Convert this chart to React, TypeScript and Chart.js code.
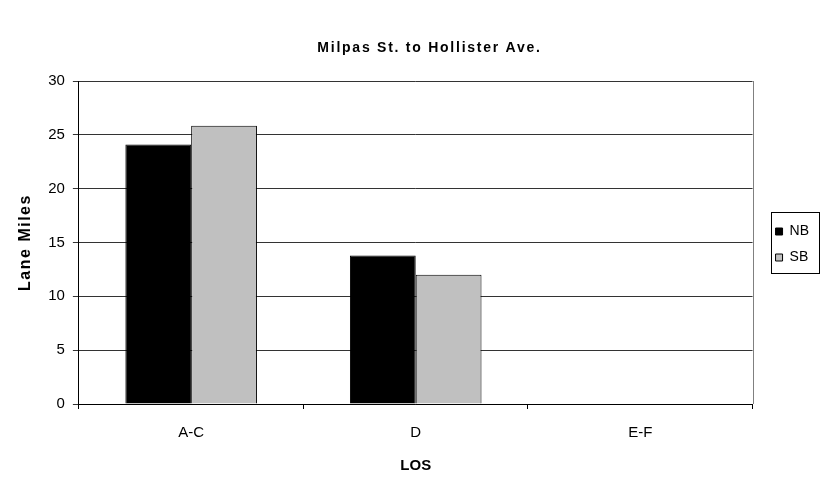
import React, { useEffect, useRef } from "react";
import { Chart, registerables } from "chart.js";

Chart.register(...registerables);

const categories = ["A-C", "D", "E-F"];
const nbValues = [24.1, 13.8, 0];
const sbValues = [25.85, 12.0, 0];
const seriesNames = ["NB", "SB"];
const yTicks = [0, 5, 10, 15, 20, 25, 30];

const FONT = "'Liberation Sans', Arial, sans-serif";

function withSpacing(ctx: any, sp: string, dx: number, fn: () => void) {
  const prev = ctx.letterSpacing;
  ctx.save();
  ctx.translate(dx, 0);
  ctx.letterSpacing = sp;
  try {
    fn();
  } finally {
    ctx.restore();
    ctx.letterSpacing = prev;
  }
}

const spacingPlugin = {
  id: "spacing",
  afterInit(chart: any) {
    const tb = chart.titleBlock;
    if (tb && !tb.__wrapped) {
      const od = tb.draw.bind(tb);
      tb.draw = (...a: any[]) => withSpacing(chart.ctx, "1.75px", 12, () => od(...a));
      tb.__wrapped = true;
    }
  },
  afterLayout(chart: any) {
    const y = chart.scales.y;
    if (y && !y.__wrapped) {
      const od = y.drawTitle.bind(y);
      y.drawTitle = (...a: any[]) => withSpacing(chart.ctx, "1.5px", 0, () => od(...a));
      y.__wrapped = true;
    }
  },
};

const framePlugin = {
  id: "frame",
  afterDraw(chart: any) {
    const ctx = chart.ctx;
    const a = chart.chartArea;
    ctx.save();
    ctx.strokeStyle = "#808080";
    ctx.lineWidth = 1;
    ctx.beginPath();
    ctx.moveTo(Math.round(a.right) + 0.5, a.top);
    ctx.lineTo(Math.round(a.right) + 0.5, a.bottom);
    ctx.stroke();
    const lg = chart.legend;
    if (lg && lg.legendHitBoxes && lg.legendHitBoxes.length) {
      const hb = lg.legendHitBoxes;
      const l = Math.min(...hb.map((h: any) => h.left)) - 5;
      const r = Math.max(...hb.map((h: any) => h.left + h.width)) + 10;
      const t = hb[0].top - 13;
      const last = hb[hb.length - 1];
      const b = last.top + last.height + 8;
      ctx.strokeStyle = "#000";
      ctx.strokeRect(Math.round(l) + 0.5, Math.round(t) + 0.5, Math.round(r - l), Math.round(b - t));
    }
    ctx.restore();
  },
};

export default function App() {
  const ref = useRef<HTMLCanvasElement>(null);
  useEffect(() => {
    document.body.style.margin = "0";
    const chart = new Chart(ref.current!, {
      type: "bar",
      data: {
        labels: categories,
        datasets: [
          {
            label: seriesNames[0],
            data: nbValues,
            backgroundColor: "#000000",
            borderColor: "#000000",
            borderWidth: 1,
            categoryPercentage: 0.586,
            barPercentage: 1.0,
          },
          {
            label: seriesNames[1],
            data: sbValues,
            backgroundColor: "#C0C0C0",
            borderColor: "#000000",
            borderWidth: 1,
            categoryPercentage: 0.586,
            barPercentage: 1.0,
          },
        ],
      },
      options: {
        animation: false,
        responsive: false,
        maintainAspectRatio: false,
        layout: { padding: { left: 16, right: 13, bottom: 4, top: 0 } },
        plugins: {
          title: {
            display: true,
            text: "Milpas St. to Hollister Ave.",
            color: "#000",
            font: { family: FONT, size: 14, weight: "bold" },
            padding: { top: 39.6, bottom: 24.6 },
          },
          legend: {
            position: "right",
            title: {
              display: true,
              text: " ",
              color: "#000",
              font: { family: FONT, size: 10 },
              padding: { top: 1, bottom: 1 },
            },
            labels: {
              color: "#000",
              font: { family: FONT, size: 14 },
              boxWidth: 7,
              boxHeight: 7,
              padding: 12,
              generateLabels: (chart: any) =>
                chart.data.datasets.map((d: any, i: number) => ({
                  text: d.label,
                  fillStyle: d.backgroundColor,
                  strokeStyle: "#000",
                  fontColor: "#000",
                  lineWidth: 1,
                  datasetIndex: i,
                  hidden: false,
                })),
            },
          },
          tooltip: { enabled: false },
        },
        scales: {
          x: {
            grid: {
              display: true,
              drawOnChartArea: false,
              drawTicks: true,
              tickLength: 5,
              offset: true,
              color: "#000",
            },
            border: { display: true, color: "#000" },
            ticks: {
              color: "#000",
              font: { family: FONT, size: 15 },
              padding: 15,
            },
            title: {
              display: true,
              text: "LOS",
              color: "#000",
              font: { family: FONT, size: 15, weight: "bold" },
              padding: { top: 0, bottom: 0 },
            },
          },
          y: {
            min: 0,
            max: 30,
            afterBuildTicks: (axis: any) => {
              axis.ticks = yTicks.map((v) => ({ value: v }));
            },
            grid: {
              color: "#333",
              tickLength: 6,
            },
            border: { display: true, color: "#000" },
            ticks: {
              color: "#000",
              font: { family: FONT, size: 15 },
              padding: 8,
            },
            title: {
              display: true,
              text: "Lane Miles",
              color: "#000",
              font: { family: FONT, size: 16, weight: "bold" },
              padding: { top: 0, bottom: 5 },
            },
          },
          yR: {
            position: "right",
            display: true,
            min: 0,
            max: 30,
            grid: { display: false },
            border: { display: false },
            ticks: { display: false },
            afterFit: (s: any) => {
              s.width = 11;
            },
          },
        },
      },
      plugins: [spacingPlugin, framePlugin],
    });
    return () => chart.destroy();
  }, []);
  return (
    <div style={{ width: 832, height: 479 }}>
      <canvas ref={ref} width={832} height={479} style={{ display: "block" }} />
    </div>
  );
}
